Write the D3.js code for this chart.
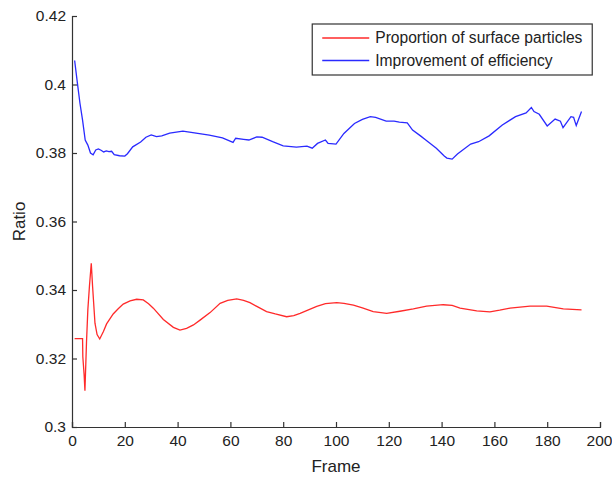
<!DOCTYPE html>
<html>
<head>
<meta charset="utf-8">
<script src="https://cdn.jsdelivr.net/npm/d3@7"></script>
<style>
  body { margin: 0; background: #fff; }
  svg text { font-family: "Liberation Sans", Arial, sans-serif; fill: #222; }
</style>
</head>
<body>
<svg id="chart" width="612" height="478"></svg>
<script>
// values: [frame, ratio]
const surfaceProportion = [
    [1, 0.3258], [4, 0.3258], [4.1, 0.3205], [4.6, 0.3152], [4.9, 0.3106], [5.5, 0.3249],
    [6, 0.3342], [6.6, 0.341], [7.3, 0.3478], [7.8, 0.341], [8.7, 0.3303], [9.5, 0.327],
    [10.5, 0.3257], [11.9, 0.3279], [13.1, 0.3301], [15.6, 0.333], [17.5, 0.3345], [19.4, 0.3359],
    [22, 0.3368], [24.5, 0.3373], [27, 0.3371], [29, 0.336], [30.8, 0.3347], [34.6, 0.3314],
    [38.4, 0.3291], [40.9, 0.3283], [43.4, 0.3288], [46, 0.3298], [48.5, 0.3312], [52.3, 0.3334],
    [56.1, 0.3361], [59, 0.337], [62.4, 0.3374], [65, 0.337], [67.4, 0.3363], [70, 0.3352],
    [73.7, 0.3337], [77, 0.333], [81.3, 0.3322], [84, 0.3325], [86.4, 0.3332], [92.7, 0.3352],
    [96, 0.336], [100.3, 0.3363], [103, 0.3361], [106.6, 0.3356], [110, 0.3348], [114.1, 0.3337],
    [119.2, 0.3332], [124.2, 0.3338], [129.3, 0.3345], [134.3, 0.3353], [140.6, 0.3357], [144, 0.3355],
    [147, 0.3347], [153.3, 0.3339], [158.3, 0.3336], [162, 0.3341], [165.9, 0.3347], [173.5, 0.3353],
    [179.8, 0.3353], [186.1, 0.3345], [193, 0.3342]
];

const efficiencyGain = [
    [1, 0.407], [2, 0.4007], [3, 0.3946], [4, 0.3896], [5, 0.3838], [6, 0.3823], [7, 0.38],
    [8, 0.3795], [9, 0.3809], [10, 0.3812], [11, 0.3808], [12, 0.3803], [13, 0.3806], [14, 0.3804],
    [15, 0.3805], [16, 0.3795], [18, 0.3792], [20, 0.3791], [21, 0.3798], [23, 0.3818], [26, 0.3832],
    [28, 0.3846], [30, 0.3853], [32, 0.3848], [34, 0.385], [37, 0.3858], [42, 0.3864], [47, 0.3858],
    [52, 0.3852], [57, 0.3844], [61, 0.3831], [62, 0.3843], [65, 0.384], [67, 0.3838], [70, 0.3847],
    [72, 0.3846], [76, 0.3833], [80, 0.3821], [85, 0.3817], [89, 0.382], [91, 0.3814], [93, 0.3828],
    [96, 0.3838], [97, 0.3828], [100, 0.3826], [103, 0.3857], [107, 0.3886], [110, 0.3898],
    [113, 0.3906], [115, 0.3904], [119, 0.3893], [122, 0.3893], [124, 0.389], [127, 0.3888],
    [129, 0.3867], [132, 0.385], [134, 0.3838], [138, 0.3814], [141, 0.3791], [142, 0.3785],
    [144, 0.3782], [146, 0.3797], [151, 0.3826], [154, 0.3833], [158, 0.385], [163, 0.3882],
    [168, 0.3906], [172, 0.3917], [174, 0.3933], [175, 0.3921], [177, 0.3913], [180, 0.3879],
    [183, 0.3899], [185, 0.3893], [186, 0.3874], [189, 0.3906], [190, 0.3904], [191, 0.388],
    [193, 0.3921]
];

const seriesNames = ["Proportion of surface particles", "Improvement of efficiency"];
const seriesColors = ["#ff2a2a", "#2a2aff"];
const xTicks = [0, 20, 40, 60, 80, 100, 120, 140, 160, 180, 200];
const yTicks = [0.3, 0.32, 0.34, 0.36, 0.38, 0.4, 0.42];

const margin = { top: 16, right: 12, bottom: 51, left: 72 },
    width = 612 - margin.left - margin.right,
    height = 478 - margin.top - margin.bottom;

const svg = d3.select("#chart");
const g = svg.append("g")
    .attr("transform", `translate(${margin.left},${margin.top})`);

const x = d3.scaleLinear().domain([0, 200]).range([0, width]);
const y = d3.scaleLinear().domain([0.3, 0.42]).range([height, 0]);

// MATLAB style: ticks pointing inward, no box
const xAxis = g.append("g")
    .attr("transform", `translate(0,${height})`)
    .call(d3.axisBottom(x).tickValues(xTicks).tickSize(-5).tickPadding(8).tickFormat(d3.format("d")));
const yAxis = g.append("g")
    .call(d3.axisLeft(y).tickValues(yTicks).tickSize(-5).tickPadding(6).tickFormat(d => +d.toFixed(2)));

[xAxis, yAxis].forEach(a => {
    a.select(".domain").attr("stroke", "#333").attr("stroke-width", 1.2);
    a.selectAll(".tick line").attr("stroke", "#333").attr("stroke-width", 1.2);
    a.selectAll(".tick text")
        .style("font-size", "15.5px")
        .style("font-family", "'Liberation Sans', Arial, sans-serif")
        .attr("fill", "#222");
});

// keep the last x label inside the page
xAxis.selectAll(".tick text").filter(d => d === 200).attr("dx", "-1");

const line = d3.line()
    .x(d => x(d[0]))
    .y(d => y(d[1]));

[surfaceProportion, efficiencyGain].forEach((data, i) => {
    g.append("path")
        .datum(data)
        .attr("fill", "none")
        .attr("stroke", seriesColors[i])
        .attr("stroke-width", 1.3)
        .attr("d", line);
});

// axis titles
g.append("text")
    .attr("x", width / 2)
    .attr("y", height + 45)
    .attr("text-anchor", "middle")
    .style("font-size", "17px")
    .text("Frame");

g.append("text")
    .attr("transform", `translate(${-47},${height / 2}) rotate(-90)`)
    .attr("text-anchor", "middle")
    .style("font-size", "17px")
    .text("Ratio");

// legend
const legend = g.append("g")
    .attr("transform", `translate(${x(91)},${8})`);

legend.append("rect")
    .attr("width", 280)
    .attr("height", 51)
    .attr("fill", "#fff")
    .attr("stroke", "#333")
    .attr("stroke-width", 1.2);

seriesNames.forEach((name, i) => {
    const ly = 14 + i * 22.5;
    legend.append("line")
        .attr("x1", 10).attr("x2", 57)
        .attr("y1", ly).attr("y2", ly)
        .attr("stroke", seriesColors[i])
        .attr("stroke-width", 1.3);
    legend.append("text")
        .attr("x", 63)
        .attr("y", ly)
        .attr("dy", "0.35em")
        .style("font-size", "15.6px")
        .text(name);
});
</script>
</body>
</html>
